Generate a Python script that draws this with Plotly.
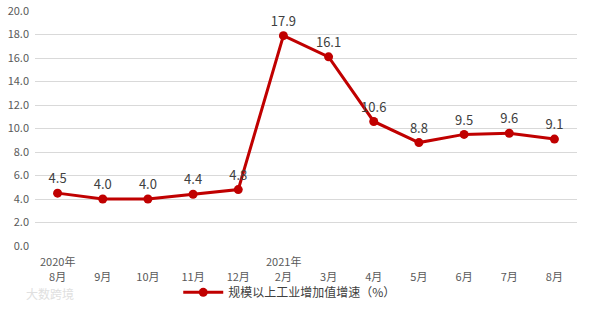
import plotly.graph_objects as go

months = ["8月", "9月", "10月", "11月", "12月", "2月", "3月", "4月", "5月", "6月", "7月", "8月"]
years = ["2020年", "", "", "", "", "2021年", "", "", "", "", "", ""]
values = [4.5, 4.0, 4.0, 4.4, 4.8, 17.9, 16.1, 10.6, 8.8, 9.5, 9.6, 9.1]
series_name = "规模以上工业增加值增速（%）"

xcats = list(range(len(months)))

fig = go.Figure()
fig.add_trace(go.Scatter(
    x=xcats, y=values, mode="lines+markers+text",
    name=series_name,
    line=dict(color="#C00000", width=3),
    marker=dict(color="#C00000", size=9),
    text=[f"{v:.1f}" for v in values],
    textposition="top center",
    textfont=dict(size=13, color="#404040"),
    cliponaxis=False,
))

fig.update_layout(
    width=590, height=311,
    margin=dict(l=35, r=13, t=11, b=65, autoexpand=False),
    plot_bgcolor="white", paper_bgcolor="white",
    font=dict(family="Noto Sans CJK SC, Microsoft YaHei, sans-serif", color="#595959", size=11),
    showlegend=True,
    legend=dict(orientation="h", x=0.47, xanchor="center",
                yref="container", y=0.06, yanchor="middle",
                bgcolor="rgba(0,0,0,0)",
                font=dict(size=12, color="#404040"), itemwidth=40),
)
fig.update_xaxes(
    tickmode="array", tickvals=xcats, ticktext=months,
    range=[-0.5, len(months) - 0.5],
    showgrid=False, zeroline=False, showline=False, ticks="",
    tickfont=dict(size=11, color="#595959"),
    ticklabelstandoff=23, automargin=False,
)
fig.update_yaxes(
    range=[0, 20], dtick=2, tickformat=".1f",
    showgrid=True, gridcolor="#D9D9D9", gridwidth=1,
    zeroline=False, showline=False, ticks="",
    tickfont=dict(size=11, color="#595959"),
    ticklabelstandoff=5, automargin=False,
)
for xi, yr in zip(xcats, years):
    if yr:
        fig.add_annotation(
            text=yr, x=xi, xref="x", yref="paper", y=-0.062,
            yanchor="middle", showarrow=False,
            font=dict(size=11, color="#595959"),
        )
fig.add_annotation(
    text="大数跨境", xref="paper", yref="paper", x=-0.02, y=-0.2,
    xanchor="left", yanchor="middle", showarrow=False,
    font=dict(size=12, color="#E0E0E0"),
)

fig.write_html("out.html")
